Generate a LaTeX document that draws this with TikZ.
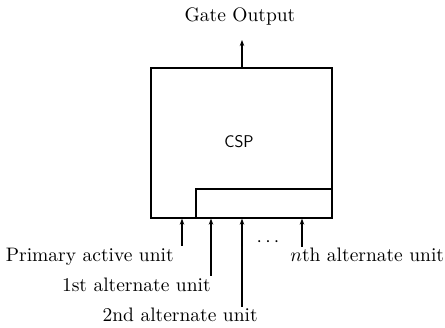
\documentclass[tikz,border=0pt]{standalone}
\usetikzlibrary{arrows.meta}
\begin{document}
\begin{tikzpicture}[x=1pt,y=-1pt,
  lbl/.style={inner sep=0pt,font=\normalsize,scale=1.95},
  inp/.style={line width=1.3pt,-{Stealth[length=6pt,width=4.5pt]}},
  boxst/.style={draw,line width=1.3pt,inner sep=0pt}]
\useasboundingbox (0,0) rectangle (445,328);
\node[boxst,minimum width=181pt,minimum height=150pt] (csp) at (241.5,143) {};
\node[inner sep=0pt,font=\sffamily\fontsize{17}{19}\selectfont] (csplbl) at (239,142) {CSP};
\node[boxst,minimum width=136pt,minimum height=29pt] (inner) at (264,203.5) {};
\node[lbl,anchor=base] (gate) at (240,22) {Gate Output};
\node[lbl,anchor=base east] (prim) at (174,262) {Primary active unit};
\node[lbl,anchor=base east] (first) at (211,292) {1st alternate unit};
\node[lbl,anchor=base east] (second) at (258,322) {2nd alternate unit};
\node[lbl,anchor=base west] (nth) at (290,262) {$n$th alternate unit};
\node[lbl,anchor=base] (dots) at (268,247) {$\cdots$};
\coordinate (gtop) at (242,40);
\coordinate (p1) at (182,246);
\coordinate (p2) at (211,276);
\coordinate (p3) at (242,307);
\coordinate (p4) at (302,247);
\draw[inp] (csp.north -| gtop) -- (gtop);
\draw[inp] (p1) -- (p1 |- csp.south);
\draw[inp] (p2) -- (p2 |- csp.south);
\draw[inp] (p3) -- (p3 |- csp.south);
\draw[inp] (p4) -- (p4 |- csp.south);
\end{tikzpicture}
\end{document}
